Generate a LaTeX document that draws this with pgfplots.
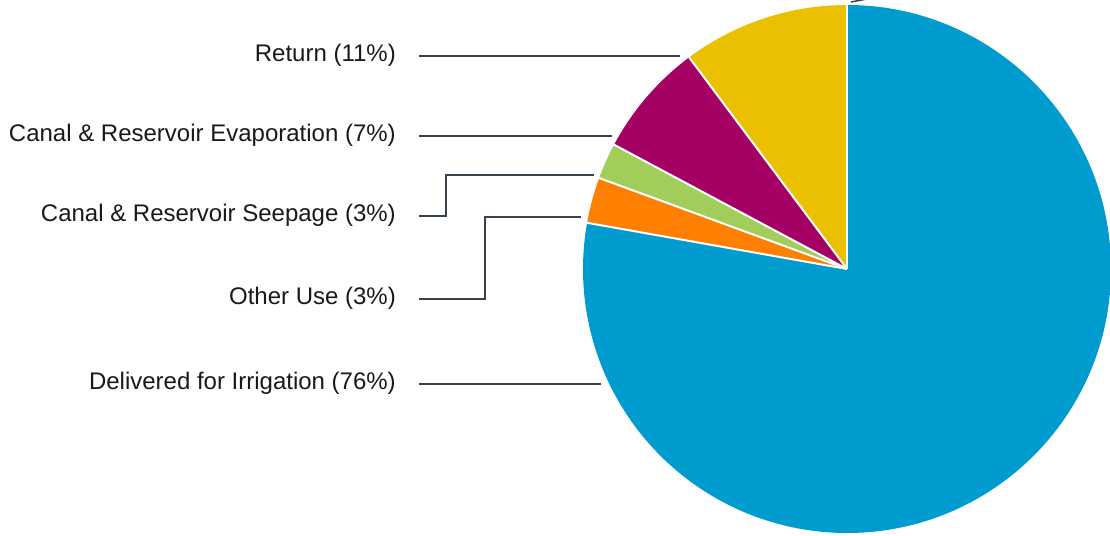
\documentclass[border=0pt]{standalone}
\usepackage{pgfplots}
\usepackage{pgfplotstable}
\pgfplotsset{compat=1.18}
\usepackage{fontspec}
\setmainfont{Liberation Sans}

\definecolor{cblue}{HTML}{009CCF}
\definecolor{corange}{HTML}{FF7F00}
\definecolor{cgreen}{HTML}{A3CD5B}
\definecolor{cmagenta}{HTML}{A50064}
\definecolor{cyellow}{HTML}{EBC000}
\definecolor{cline}{HTML}{37424F}

% share of each slice (percent), clockwise from 12 o'clock
\pgfplotstableread{
label value color
Delivered 77.8 cblue
Other 2.8 corange
Seepage 2.2 cgreen
Evaporation 7.0 cmagenta
Return 10.2 cyellow
}\piedata

\def\slices{}
\def\seps{}
\gdef\curang{90}
\pgfplotstableforeachcolumnelement{value}\of\piedata\as\val{%
  \pgfplotstablegetelem{\pgfplotstablerow}{color}\of\piedata
  \let\col\pgfplotsretval
  \pgfmathsetmacro\endang{\curang-3.6*\val}%
  \xdef\slices{\unexpanded\expandafter{\slices}\noexpand\fill[\col] (axis cs:847,266) -- ++(\curang:264pt) arc[start angle=\curang, end angle=\endang, radius=264pt] -- cycle;}%
  \xdef\seps{\unexpanded\expandafter{\seps}\noexpand\draw[white, line width=2pt] (axis cs:847,266) -- ++(\curang:264pt);}%
  \global\let\curang\endang
}

\begin{document}
\begin{tikzpicture}
\begin{axis}[
  scale only axis, width=1110pt, height=535pt,
  xmin=0, xmax=1110, ymin=0, ymax=535,
  hide axis, clip=false,
]
\coordinate (bl) at (axis cs:0,0);
\coordinate (tr) at (axis cs:1110,535);
\slices
\seps
% leader lines (pixel coords, y flipped)
\draw[cline, line width=2pt] (axis cs:419,479) -- (axis cs:680,479);
\draw[cline, line width=2pt] (axis cs:419,399) -- (axis cs:612,399);
\draw[cline, line width=2pt] (axis cs:419,319) -- (axis cs:446,319) -- (axis cs:446,360) -- (axis cs:594,360);
\draw[cline, line width=2pt] (axis cs:419,236) -- (axis cs:485,236) -- (axis cs:485,318) -- (axis cs:581,318);
\draw[cline, line width=2pt] (axis cs:419,151) -- (axis cs:601,151);
\draw[cline, line width=1.5pt] (axis cs:851,533) -- (axis cs:867,536);
% labels
\begin{scope}[every node/.style={anchor=base east, inner sep=0pt, font=\fontsize{24}{29}\selectfont, text=black!90}]
\node at (axis cs:396,473) {Return (11\%)};
\node at (axis cs:396,393) {Canal \& Reservoir Evaporation (7\%)};
\node at (axis cs:396,313) {Canal \& Reservoir Seepage (3\%)};
\node at (axis cs:396,230) {Other Use (3\%)};
\node at (axis cs:396,145) {Delivered for Irrigation (76\%)};
\end{scope}
\end{axis}
\pgfresetboundingbox
\path[use as bounding box] (bl) rectangle (tr);
\end{tikzpicture}
\end{document}
